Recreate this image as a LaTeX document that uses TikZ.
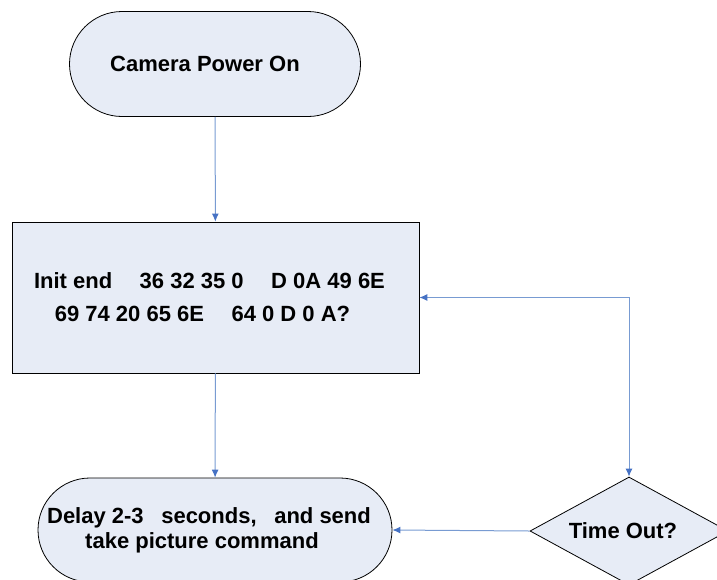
\documentclass[tikz,border=0pt]{standalone}
\usepackage{fontspec}
\setmainfont{Liberation Sans}
\usetikzlibrary{shapes.misc,shapes.geometric,arrows.meta}
\definecolor{boxfill}{RGB}{231,236,246}
\definecolor{linkblue}{RGB}{120,155,210}
\definecolor{tipblue}{RGB}{70,114,196}
\tikzset{
  shapebase/.style={draw=black, line width=0.8pt, fill=boxfill, inner sep=0pt,
    font=\fontsize{22}{25}\selectfont\bfseries, align=center},
  termbox/.style={shapebase, rounded rectangle, rounded rectangle arc length=180},
  procbox/.style={shapebase, rectangle, font=\fontsize{22}{33}\selectfont\bfseries},
  decbox/.style={shapebase, diamond, shape aspect=1.83},
  link/.style={draw=linkblue, line width=1pt, -{Latex[length=8pt,width=7pt,color=tipblue]}},
  dlink/.style={draw=linkblue, line width=1pt, {Latex[length=8pt,width=7pt,color=tipblue]}-{Latex[length=8pt,width=7pt,color=tipblue]}}
}
\begin{document}
\begin{tikzpicture}[x=1pt,y=-1pt]
\useasboundingbox (0,0) rectangle (717,579);
\clip (0,0) rectangle (717,579);
\node[termbox, minimum width=291pt, minimum height=105pt] (start) at (215,64) {\hspace*{-20pt}Camera Power On};
\node[procbox, minimum width=407pt, minimum height=151pt] (init) at (215.5,297.5)
  {Init end\hspace{1.25em}36 32 35 0\hspace{1.25em}D 0A 49 6E\hspace*{12pt}\\69 74 20 65 6E\hspace{1.25em}64 0 D 0 A?\hspace*{26pt}};
\node[termbox, minimum width=354pt, minimum height=104pt] (delay) at (215,530)
  {Delay 2-3\hspace{0.8em}seconds,\hspace{0.8em}and send\hspace*{12pt}\\take picture command\hspace*{26pt}};
\node[decbox, minimum width=198pt, minimum height=108pt] (tout) at (629,531) {Time Out?\hspace*{12pt}};
\path[link] (start) -- (init);
\path[link] (init) -- (delay);
\path[link] (tout.west) -- (delay.east);
\path[dlink] (init.east) -| (tout.north);
\end{tikzpicture}
\end{document}
